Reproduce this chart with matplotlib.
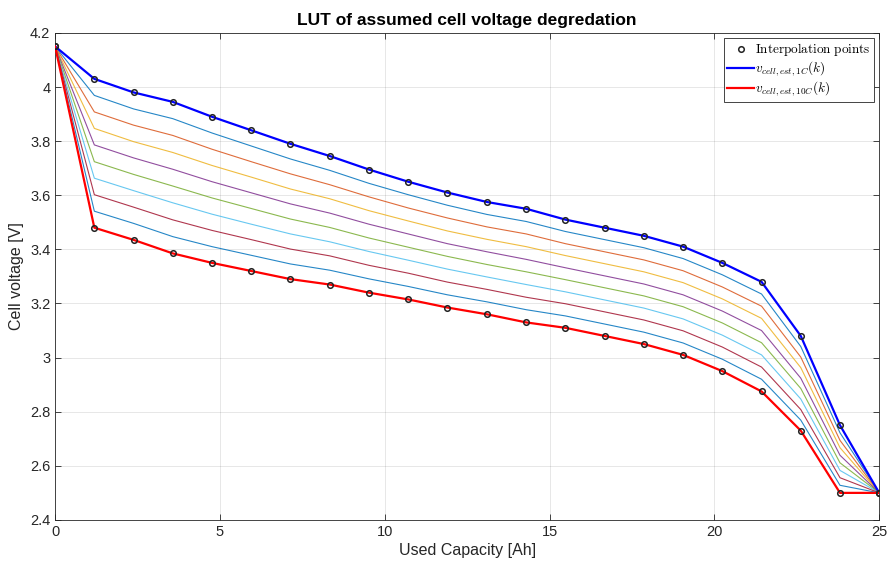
import matplotlib
matplotlib.use('Agg')
import matplotlib.pyplot as plt
import numpy as np

plt.rcParams['font.family'] = ['Liberation Sans', 'DejaVu Sans']
plt.rcParams['mathtext.fontset'] = 'cm'

# used capacity at the interpolation points [Ah]
capacity = [0.0, 1.19, 2.38, 3.57, 4.76, 5.95, 7.14, 8.33, 9.52, 10.71, 11.90,
            13.10, 14.29, 15.48, 16.67, 17.86, 19.05, 20.24, 21.43, 22.62, 23.81, 25.0]

# 1C curve (top) and 10C curve (bottom)
v_1c = [4.15, 4.03, 3.98, 3.945, 3.89, 3.84, 3.79, 3.745, 3.695, 3.65, 3.61,
        3.575, 3.55, 3.51, 3.48, 3.45, 3.41, 3.35, 3.28, 3.08, 2.75, 2.50]
v_10c = [4.15, 3.48, 3.435, 3.385, 3.35, 3.32, 3.29, 3.27, 3.24, 3.215, 3.185,
         3.16, 3.13, 3.11, 3.08, 3.05, 3.01, 2.95, 2.875, 2.73, 2.50, 2.50]

# intermediate LUT curves, top to bottom
v_mid1 = [4.15, 3.969, 3.919, 3.883, 3.83, 3.782, 3.734, 3.692, 3.644, 3.602, 3.563,
          3.529, 3.503, 3.466, 3.436, 3.406, 3.366, 3.306, 3.235, 3.041, 2.722, 2.50]
v_mid2 = [4.15, 3.908, 3.859, 3.821, 3.77, 3.724, 3.679, 3.639, 3.594, 3.553, 3.516,
          3.483, 3.457, 3.421, 3.391, 3.361, 3.321, 3.261, 3.19, 3.002, 2.694, 2.50]
v_mid3 = [4.15, 3.847, 3.798, 3.758, 3.71, 3.667, 3.623, 3.587, 3.543, 3.505, 3.468,
          3.437, 3.41, 3.377, 3.347, 3.317, 3.277, 3.217, 3.145, 2.963, 2.667, 2.50]
v_mid4 = [4.15, 3.786, 3.738, 3.696, 3.65, 3.609, 3.568, 3.534, 3.493, 3.457, 3.421,
          3.391, 3.363, 3.332, 3.302, 3.272, 3.232, 3.172, 3.10, 2.924, 2.639, 2.50]
v_mid5 = [4.15, 3.724, 3.677, 3.634, 3.59, 3.551, 3.512, 3.481, 3.442, 3.408, 3.374,
          3.344, 3.317, 3.288, 3.258, 3.228, 3.188, 3.128, 3.055, 2.886, 2.611, 2.50]
v_mid6 = [4.15, 3.663, 3.617, 3.572, 3.53, 3.493, 3.457, 3.428, 3.392, 3.36, 3.327,
          3.298, 3.27, 3.243, 3.213, 3.183, 3.143, 3.083, 3.01, 2.847, 2.583, 2.50]
v_mid7 = [4.15, 3.602, 3.556, 3.509, 3.47, 3.436, 3.401, 3.376, 3.341, 3.312, 3.279,
          3.252, 3.223, 3.199, 3.169, 3.139, 3.099, 3.039, 2.965, 2.808, 2.556, 2.50]
v_mid8 = [4.15, 3.541, 3.496, 3.447, 3.41, 3.378, 3.346, 3.323, 3.291, 3.263, 3.232,
          3.206, 3.177, 3.154, 3.124, 3.094, 3.054, 2.994, 2.92, 2.769, 2.528, 2.50]

mid_curves = [v_mid1, v_mid2, v_mid3, v_mid4, v_mid5, v_mid6, v_mid7, v_mid8]
mid_colors = ['#0072BD', '#D95319', '#EDB120', '#7E2F8E',
              '#77AC30', '#4DBEEE', '#A2142F', '#0072BD']

fig = plt.figure(figsize=(8.89, 5.67), dpi=100)
ax = fig.add_axes([0.062, 0.083, 0.927, 0.859])

for v, c in zip(mid_curves, mid_colors):
    ax.plot(capacity, v, color=c, linewidth=0.8, alpha=0.85)

ax.plot(capacity, v_1c, color='#0000FF', linewidth=1.6, zorder=3)
ax.plot(capacity, v_10c, color='#FF0000', linewidth=1.6, zorder=3)
pts, = ax.plot(capacity, v_1c, linestyle='none', marker='o', markersize=4,
               markerfacecolor='none', markeredgecolor='#222222', markeredgewidth=1.1, zorder=4)
ax.plot(capacity, v_10c, linestyle='none', marker='o', markersize=4,
        markerfacecolor='none', markeredgecolor='#222222', markeredgewidth=1.1, zorder=4)

# legend handles
h1, = ax.plot([], [], color='#0000FF', linewidth=1.6)
h2, = ax.plot([], [], color='#FF0000', linewidth=1.6)
leg = ax.legend([pts, h1, h2],
                [r'$\mathrm{Interpolation\ points}$', r'$v_{cell,est,1C}(k)$', r'$v_{cell,est,10C}(k)$'],
                loc='upper right', fontsize=9.5, handlelength=2.0, handletextpad=0.1,
                borderpad=0.25, labelspacing=0.1, fancybox=False, framealpha=1,
                edgecolor='#262626', borderaxespad=0.4)
leg.get_frame().set_linewidth(0.6)

ax.set_xlim(0, 25)
ax.set_ylim(2.4, 4.2)
ax.set_xticks([0, 5, 10, 15, 20, 25])
ax.set_yticks([2.4, 2.6, 2.8, 3.0, 3.2, 3.4, 3.6, 3.8, 4.0, 4.2])
ax.set_yticklabels(['2.4', '2.6', '2.8', '3', '3.2', '3.4', '3.6', '3.8', '4', '4.2'])

ax.grid(True, color='#262626', alpha=0.13, linewidth=0.6)
ax.tick_params(direction='in', length=4, width=0.6, colors='#262626', labelsize=10.5,
               top=True, right=True)
for sp in ax.spines.values():
    sp.set_color('#262626')
    sp.set_linewidth(0.6)

ax.set_xlabel('Used Capacity [Ah]', fontsize=11.5, color='#262626', labelpad=3)
ax.set_ylabel('Cell voltage [V]', fontsize=11.5, color='#262626', labelpad=4)
ax.set_title('LUT of assumed cell voltage degredation', fontsize=12.5, fontweight='bold', pad=6)

fig.savefig('out.png', dpi=100)
